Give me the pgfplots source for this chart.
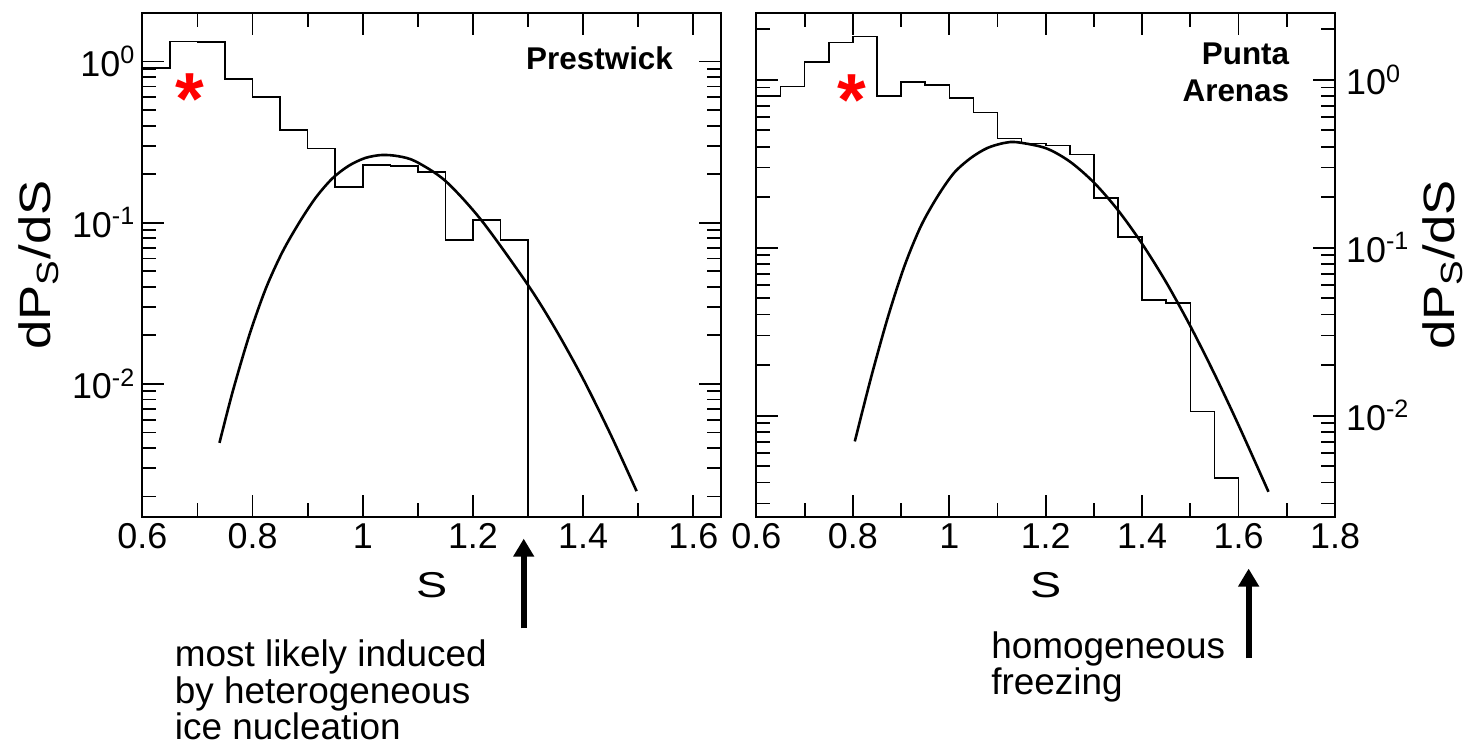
\documentclass[border=0pt]{standalone}
\usepackage{fontspec}
\setmainfont{Liberation Sans}
\usepackage{graphicx}
\usepackage{pgfplots}
\usetikzlibrary{arrows.meta}
\pgfplotsset{compat=1.18}
\begin{document}
\begin{tikzpicture}
% ---------------- Prestwick ----------------
\begin{axis}[at={(71.35pt,117.5pt)}, anchor=south west,
  scale only axis, width=290pt, height=252.5pt,
  ymode=log, log basis y=10,
  axis line style={line width=1pt},
  tick style={line width=0.9pt, black},
  major tick length=11pt, minor tick length=7pt,
  tick align=inside,
  ytick={0.01,0.1,1},
  yticklabels={10\textsuperscript{-2},10\textsuperscript{-1},10\textsuperscript{0}},
  minor ytick={0.002,0.003,0.004,0.005,0.006,0.007,0.008,0.009,0.02,0.03,0.04,0.05,0.06,0.07,0.08,0.09,0.2,0.3,0.4,0.5,0.6,0.7,0.8,0.9},
  minor xtick={0.7,0.9,1.1,1.3,1.5},
  ticklabel style={font=\fontsize{18}{18}\selectfont},
  label style={font=\fontsize{18}{18}\selectfont},
  xlabel={\scalebox{1.3}[1]{S}}, xlabel style={yshift=-5pt},
  ylabel={\fontsize{22}{22}\selectfont\scalebox{1.2}[1]{dP\textsubscript{S}/dS}},
  xmin=0.6, xmax=1.65, ymin=0.0015, ymax=2,
  xtick={0.6,0.8,1,1.2,1.4,1.6}, xticklabels={0.6,0.8,1,1.2,1.4,1.6},
  yticklabel pos=left, ytick pos=both]
\addplot[black, line width=0.8pt, const plot, mark=none] coordinates {
(0.60,0.91) (0.65,1.33) (0.70,1.32) (0.75,0.78) (0.80,0.60) (0.85,0.375)
(0.90,0.289) (0.95,0.166) (1.00,0.228) (1.05,0.225) (1.10,0.206) (1.15,0.078)
(1.20,0.104) (1.25,0.078) (1.30,0.0008)};
\addplot[black, line width=1.3pt, smooth, mark=none] coordinates {
(0.740,0.00431) (0.764,0.00897) (0.794,0.0200) (0.824,0.0390) (0.854,0.0656)
(0.885,0.1005) (0.915,0.1435) (0.945,0.1884) (0.975,0.2259) (1.005,0.2523)
(1.035,0.2630) (1.065,0.2582) (1.096,0.2399) (1.150,0.1816) (1.216,0.1028)
(1.300,0.0410) (1.350,0.0218) (1.400,0.01072) (1.450,0.00484) (1.497,0.00216)};
\node[text=red, font=\bfseries\fontsize{37}{37}\selectfont, anchor=base, inner sep=0pt, yshift=-21pt] at (axis cs:0.686,0.74) {*};
\end{axis}
% ---------------- Punta Arenas ----------------
\begin{axis}[at={(379.15pt,117.5pt)}, anchor=south west,
  scale only axis, width=290pt, height=252.5pt,
  ymode=log, log basis y=10,
  axis line style={line width=1pt},
  tick style={line width=0.9pt, black},
  major tick length=11pt, minor tick length=7pt,
  tick align=inside,
  ytick={0.01,0.1,1},
  yticklabels={10\textsuperscript{-2},10\textsuperscript{-1},10\textsuperscript{0}},
  minor ytick={0.003,0.004,0.005,0.006,0.007,0.008,0.009,0.02,0.03,0.04,0.05,0.06,0.07,0.08,0.09,0.2,0.3,0.4,0.5,0.6,0.7,0.8,0.9,2},
  minor xtick={0.7,0.9,1.1,1.3,1.5,1.7},
  ticklabel style={font=\fontsize{18}{18}\selectfont},
  label style={font=\fontsize{18}{18}\selectfont},
  xlabel={\scalebox{1.3}[1]{S}}, xlabel style={yshift=-5pt},
  ylabel={\fontsize{22}{22}\selectfont\scalebox{1.2}[1]{dP\textsubscript{S}/dS}},
  xmin=0.6, xmax=1.8, ymin=0.0025, ymax=2.5,
  xtick={0.6,0.8,1,1.2,1.4,1.6,1.8}, xticklabels={0.6,0.8,1,1.2,1.4,1.6,1.8},
  yticklabel pos=right, ytick pos=both, ylabel near ticks,
  yticklabel style={xshift=2pt}]
\addplot[black, line width=0.8pt, const plot, mark=none] coordinates {
(0.60,0.80) (0.65,0.91) (0.70,1.28) (0.75,1.67) (0.80,1.81) (0.85,0.80)
(0.90,0.97) (0.95,0.93) (1.00,0.78) (1.05,0.64) (1.10,0.446) (1.15,0.417)
(1.20,0.407) (1.25,0.358) (1.30,0.198) (1.35,0.116) (1.40,0.049) (1.45,0.0467)
(1.50,0.0106) (1.55,0.00425) (1.60,0.001)};
\addplot[black, line width=1.3pt, smooth, mark=none] coordinates {
(0.804,0.00702) (0.838,0.01698) (0.873,0.0389) (0.907,0.0778) (0.941,0.1343)
(0.976,0.2028) (1.010,0.2793) (1.045,0.3428) (1.079,0.3926) (1.114,0.4207)
(1.141,0.4246) (1.20,0.3917) (1.25,0.3258) (1.30,0.2443) (1.35,0.1671)
(1.40,0.1054) (1.45,0.0621) (1.50,0.0341) (1.55,0.0177) (1.60,0.00877) (1.662,0.00352)};
\node[text=red, font=\bfseries\fontsize{37}{37}\selectfont, anchor=base, inner sep=0pt, yshift=-21pt] at (axis cs:0.798,0.95) {*};
\end{axis}
% ---------------- annotations ----------------
\node[anchor=base east, inner sep=0pt, font=\bfseries\fontsize{15.75}{15.75}\selectfont] at (337.5pt,341.5pt) {Prestwick};
\node[anchor=base east, inner sep=0pt, font=\bfseries\fontsize{15.75}{15.75}\selectfont] at (646.35pt,344pt) {Punta};
\node[anchor=base east, inner sep=0pt, font=\bfseries\fontsize{15.75}{15.75}\selectfont] at (646.35pt,325.65pt) {Arenas};
\draw[line width=3pt, -{Triangle[width=10pt,length=9pt]}] (262.5pt,61.5pt) -- (262.5pt,106.5pt);
\draw[line width=3pt, -{Triangle[width=10pt,length=9pt]}] (625.85pt,46.5pt) -- (625.85pt,91.5pt);
\node[anchor=base west, inner sep=0pt, font=\fontsize{18.5}{18.5}\selectfont] at (87.5pt,42.35pt) {most likely induced};
\node[anchor=base west, inner sep=0pt, font=\fontsize{18.5}{18.5}\selectfont] at (87.5pt,24pt) {by heterogeneous};
\node[anchor=base west, inner sep=0pt, font=\fontsize{18.5}{18.5}\selectfont] at (87.5pt,5.65pt) {ice nucleation};
\node[anchor=base west, inner sep=0pt, font=\fontsize{18.5}{18.5}\selectfont] at (496.65pt,46.5pt) {homogeneous};
\node[anchor=base west, inner sep=0pt, font=\fontsize{18.5}{18.5}\selectfont] at (496.65pt,28.15pt) {freezing};
\path (0,0) (734.5pt,376.5pt);
\end{tikzpicture}
\end{document}
